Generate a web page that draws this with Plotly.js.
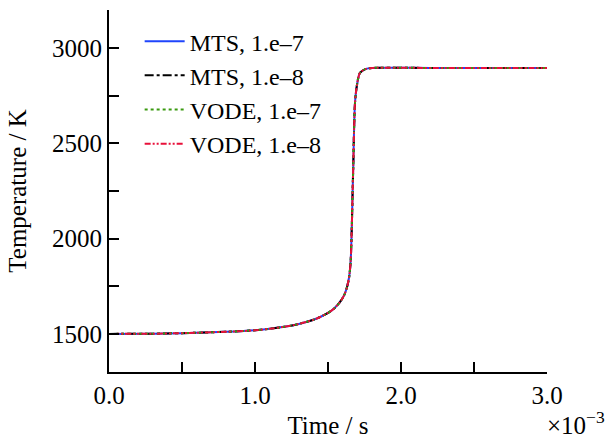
<!DOCTYPE html>
<html>
<head>
<meta charset="utf-8">
<script src="https://cdn.plot.ly/plotly-3.0.1.min.js"></script>
<style>html,body{margin:0;padding:0;background:#fff;}#chart{width:607px;height:439px;}</style>
</head>
<body>
<div id="chart"></div>
<script>
// time in seconds
const time = [0, 0.0003, 0.0005, 0.0008, 0.001, 0.0011, 0.0012, 0.0013, 0.0014, 0.00145, 0.0015, 0.00154, 0.00158, 0.00161, 0.00163, 0.001645, 0.001655, 0.001662, 0.001669, 0.001673, 0.001678, 0.001685, 0.001697, 0.001719, 0.00176, 0.001808, 0.0022, 0.0026, 0.003];
// temperature in K
const tempMTS7  = [1500, 1501, 1504, 1511, 1519, 1527, 1537, 1552, 1574, 1590, 1610, 1632, 1665, 1702, 1745, 1800, 1880, 2030, 2257, 2378, 2556, 2713, 2799, 2870, 2891, 2896, 2896, 2896, 2896];
const tempMTS8  = [1500, 1501, 1504, 1511, 1519, 1527, 1537, 1552, 1574, 1590, 1610, 1632, 1665, 1702, 1745, 1800, 1880, 2030, 2257, 2378, 2556, 2713, 2799, 2870, 2891, 2896, 2896, 2896, 2896];
const tempVODE7 = [1500, 1501, 1504, 1511, 1519, 1527, 1537, 1552, 1574, 1590, 1610, 1632, 1665, 1702, 1745, 1800, 1880, 2030, 2257, 2378, 2556, 2713, 2799, 2870, 2891, 2896, 2896, 2896, 2896];
const tempVODE8 = [1500, 1501, 1504, 1511, 1519, 1527, 1537, 1552, 1574, 1590, 1610, 1632, 1665, 1702, 1745, 1800, 1880, 2030, 2257, 2378, 2556, 2713, 2799, 2870, 2891, 2896, 2896, 2896, 2896];
const seriesNames = ["MTS, 1.e\u20137", "MTS, 1.e\u20138", "VODE, 1.e\u20137", "VODE, 1.e\u20138"];
const xTickVals = [0, 0.0005, 0.001, 0.0015, 0.002, 0.0025, 0.003];
const xTickText = ["0.0", "", "1.0", "", "2.0", "", "3.0"];
const yTickVals = [1500, 1750, 2000, 2250, 2500, 2750, 3000];
const yTickText = ["1500", "", "2000", "", "2500", "", "3000"];

const font = "Liberation Serif, Times New Roman, serif";
const traces = [
  {x: time, y: tempMTS7, name: seriesNames[0], line: {color: "#1f45fc", width: 2, dash: "solid", shape: "spline", smoothing: 0.8}},
  {x: time, y: tempMTS8, name: seriesNames[1], line: {color: "#000000", width: 2, dash: "dashdot", shape: "spline", smoothing: 0.8}},
  {x: time, y: tempVODE7, name: seriesNames[2], line: {color: "#3a9a10", width: 2, dash: "dot", shape: "spline", smoothing: 0.8}},
  {x: time, y: tempVODE8, name: seriesNames[3], line: {color: "#e8103a", width: 2, dash: "6px,2px,2px,2px,2px,2px", shape: "spline", smoothing: 0.8}}
].map(t => Object.assign({type: "scatter", mode: "lines"}, t));

const layout = {
  width: 607, height: 439,
  margin: {l: 109, r: 60, t: 10, b: 67},
  paper_bgcolor: "#fff", plot_bgcolor: "#fff",
  font: {family: font, size: 25, color: "#000"},
  showlegend: true,
  legend: {x: 0.07, y: 0.975, xanchor: "left", yanchor: "top", bgcolor: "rgba(0,0,0,0)", itemwidth: 40, font: {family: font, size: 24, color: "#000"}, tracegroupgap: 0},
  xaxis: {
    range: [0, 0.003], showgrid: false, zeroline: false,
    showline: true, linecolor: "#000", linewidth: 2, mirror: false,
    ticks: "inside", ticklen: 10, tickwidth: 2, tickcolor: "#000",
    tickmode: "array", tickvals: xTickVals, ticktext: xTickText,
    tickfont: {family: font, size: 25, color: "#000"},
    title: {text: "Time / s", font: {family: font, size: 25, color: "#000"}, standoff: 8}
  },
  yaxis: {
    range: [1300, 3200], showgrid: false, zeroline: false,
    showline: true, linecolor: "#000", linewidth: 2, mirror: false,
    ticks: "inside", ticklen: 10, tickwidth: 2, tickcolor: "#000",
    tickmode: "array", tickvals: yTickVals, ticktext: yTickText,
    tickfont: {family: font, size: 25, color: "#000"},
    title: {text: "Temperature / K", font: {family: font, size: 25, color: "#000"}, standoff: 18}
  },
  annotations: [{
    xref: "paper", yref: "paper", x: 1.0, y: -0.142, xanchor: "left", yanchor: "middle", xshift: -2,
    text: "\u00d710<sup>\u22123</sup>", showarrow: false, font: {family: font, size: 25, color: "#000"}
  }]
};
Plotly.newPlot("chart", traces, layout, {displayModeBar: false, staticPlot: true});
</script>
</body>
</html>
